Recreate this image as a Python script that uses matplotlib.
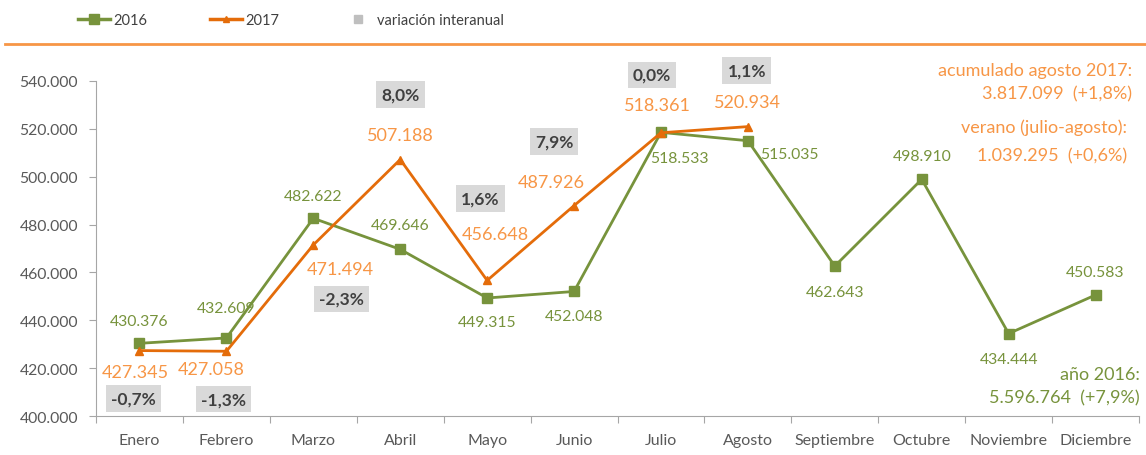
import matplotlib
matplotlib.use("Agg")
import matplotlib.pyplot as plt
from matplotlib.lines import Line2D
from matplotlib.ticker import FuncFormatter
import numpy as np

plt.rcParams['font.family'] = ['Lato', 'DejaVu Sans']

# data
months = ["Enero", "Febrero", "Marzo", "Abril", "Mayo", "Junio", "Julio", "Agosto",
          "Septiembre", "Octubre", "Noviembre", "Diciembre"]
y2016 = [430376, 432609, 482622, 469646, 449315, 452048, 518533, 515035,
         462643, 498910, 434444, 450583]
y2017 = [427345, 427058, 471494, 507188, 456648, 487926, 518361, 520934]
variacion = ["-0,7%", "-1,3%", "-2,3%", "8,0%", "1,6%", "7,9%", "0,0%", "1,1%"]

# label offsets in pixels (dx, dy)
off2016 = [(0, 22), (0, 30), (0, 22), (0, 24), (0, -24), (0, -25), (18, -26), (42, -13),
           (0, -26), (0, 23), (0, -25), (0, 23)]
off2017 = [(-4, -21), (-15, -18), (27, -24), (0, 25), (8, 46), (-23, 24), (-4, 28), (0, 25)]
offvar = [(-6, -48), (-3, -48), (28, -54), (0, 65), (-7, 82), (-20, 64), (-9, 58), (-1, 56)]

green = "#77933C"
orange_line = "#E46C0A"
orange_txt = "#F79646"
grey_txt = "#595959"


def fmt(v):
    return f"{v:,}".replace(",", ".")


fig = plt.figure(figsize=(11.46, 4.56), dpi=100)
ax = fig.add_axes([0.0838, 0.0855, 0.9101, 0.7347])

x16 = np.arange(len(y2016))
x17 = np.arange(len(y2017))
ax.plot(x16, y2016, color=green, lw=2.0, marker="s", markersize=6.5, zorder=3)
ax.plot(x17, y2017, color=orange_line, lw=2.0, marker="^", markersize=6, zorder=4)

for i, v in enumerate(y2016):
    ax.annotate(fmt(v), (i, v), xytext=off2016[i], textcoords="offset pixels",
                ha="center", va="center", color=green, fontsize=11.3)
for i, v in enumerate(y2017):
    ax.annotate(fmt(v), (i, v), xytext=off2017[i], textcoords="offset pixels",
                ha="center", va="center", color=orange_txt, fontsize=13)
for i, t in enumerate(variacion):
    ax.annotate(t, (i, y2017[i]), xytext=offvar[i], textcoords="offset pixels",
                ha="center", va="center", color="#404040", fontsize=12.5, fontweight="bold",
                bbox=dict(boxstyle="square,pad=0.3", fc="#D9D9D9", ec="none"))

ax.set_xlim(-0.5, 11.5)
ax.set_ylim(400000, 540000)
ax.set_yticks(np.arange(400000, 540001, 20000))
ax.yaxis.set_major_formatter(FuncFormatter(lambda v, p: fmt(int(v))))

ax.set_xticks(np.arange(-0.5, 12, 1))
ax.set_xticklabels([])
ax.set_xticks(x16, minor=True)
ax.set_xticklabels(months, minor=True)
ax.tick_params(axis="x", which="minor", length=0, pad=12, labelsize=11.5, labelcolor=grey_txt)
ax.tick_params(axis="x", which="major", length=5, color="#A6A6A6")
ax.tick_params(axis="y", length=5, color="#A6A6A6", labelsize=11.3, labelcolor=grey_txt, pad=8)

for s in ["top", "right"]:
    ax.spines[s].set_visible(False)
for s in ["left", "bottom"]:
    ax.spines[s].set_color("#A6A6A6")

# right-side notes
fig.text(1132 / 1146, 1 - 71 / 456, "acumulado agosto 2017:", ha="right", va="center",
         color=orange_txt, fontsize=13)
fig.text(1132 / 1146, 1 - 94 / 456, "3.817.099  (+1,8%)", ha="right", va="center",
         color=orange_txt, fontsize=13)
fig.text(1127 / 1146, 1 - 128 / 456, "verano (julio-agosto):", ha="right", va="center",
         color=orange_txt, fontsize=13)
fig.text(1127 / 1146, 1 - 156 / 456, "1.039.295  (+0,6%)", ha="right", va="center",
         color=orange_txt, fontsize=13)
fig.text(1140 / 1146, 1 - 375 / 456, "año 2016:", ha="right", va="center",
         color=green, fontsize=13)
fig.text(1140 / 1146, 1 - 398 / 456, "5.596.764  (+7,9%)", ha="right", va="center",
         color=green, fontsize=13)

# legend and separator line
handles = [Line2D([], [], color=green, lw=2.5, marker="s", markersize=6.5),
           Line2D([], [], color=orange_line, lw=2.5, marker="^", markersize=5),
           Line2D([], [], color="#BFBFBF", lw=0, marker="s", markersize=6)]
fig.legend(handles, ["2016", "2017", "variación interanual"], loc="center left",
           bbox_to_anchor=(65 / 1146, 1 - 21 / 456), ncol=3, frameon=False,
           fontsize=10.5, handlelength=2.2, handletextpad=0.2, columnspacing=4.3,
           labelcolor="#404040")
fig.add_artist(Line2D([5 / 1146, 1], [1 - 45 / 456] * 2, color=orange_txt, lw=2,
                      transform=fig.transFigure))

fig.savefig("out.png", dpi=100)
